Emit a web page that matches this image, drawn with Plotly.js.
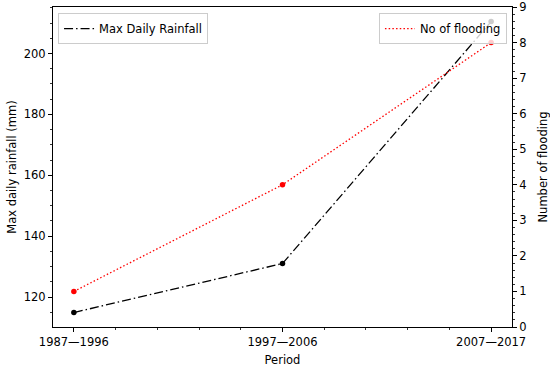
<!DOCTYPE html>
<html>
<head>
<meta charset="utf-8">
<script src="https://cdn.plot.ly/plotly-3.0.1.min.js"></script>
<style>html,body{margin:0;padding:0;background:#fff;}#chart{width:550px;height:367px;}</style>
</head>
<body>
<div id="chart"></div>
<script>
const periods = ['1987—1996', '1997—2006', '2007—2017'];
const maxRainfall = [114.9, 131.0, 210.5];
const floodCount = [1, 4, 8];
const leftTicks = [120, 140, 160, 180, 200];
const rightTicks = [0, 1, 2, 3, 4, 5, 6, 7, 8, 9];

const xIdx = periods.map((_, i) => i);
const FONT = 'DejaVu Sans, Verdana, sans-serif';

const traces = [
  {
    x: xIdx, y: maxRainfall, type: 'scatter', mode: 'lines',
    name: 'Max Daily Rainfall', yaxis: 'y', legend: 'legend',
    line: {color: '#000000', width: 1.3, dash: '9px,3px,1.5px,3px'}
  },
  {
    x: xIdx, y: maxRainfall, type: 'scatter', mode: 'markers',
    showlegend: false, yaxis: 'y',
    marker: {color: '#000000', size: 5.5}
  },
  {
    x: xIdx, y: floodCount, type: 'scatter', mode: 'lines',
    name: 'No of flooding', yaxis: 'y2', legend: 'legend2',
    line: {color: '#ff0000', width: 1.3, dash: '1.5px,2.2px'}
  },
  {
    x: xIdx, y: floodCount, type: 'scatter', mode: 'markers',
    showlegend: false, yaxis: 'y2',
    marker: {color: '#ff0000', size: 5.5}
  }
];

const axisCommon = {
  showline: true, linecolor: '#000', linewidth: 1,
  ticks: 'outside', ticklen: 4, tickwidth: 1, tickcolor: '#000',
  showgrid: false, zeroline: false,
  tickfont: {family: FONT, size: 11.5, color: '#000'}
};

const layout = {
  width: 550, height: 367,
  margin: {l: 53, r: 38, t: 7, b: 40},
  paper_bgcolor: '#fff', plot_bgcolor: '#fff',
  font: {family: FONT, size: 11.5, color: '#000'},
  xaxis: Object.assign({}, axisCommon, {
    range: [-0.1, 2.1], tickvals: xIdx, ticktext: periods, mirror: true,
    minor: {dtick: 0.2, tick0: 0, ticks: 'outside', ticklen: 2, tickwidth: 0.8, tickcolor: '#000'},
    title: {text: 'Period', font: {family: FONT, size: 11.5}},
    automargin: false
  }),
  yaxis: Object.assign({}, axisCommon, {
    range: [110.14, 215.3], tickvals: leftTicks,
    minor: {dtick: 5, tick0: 0, ticks: 'outside', ticklen: 2, tickwidth: 0.8, tickcolor: '#000'},
    title: {text: 'Max daily rainfall (mm)', font: {family: FONT, size: 11.5}, standoff: 4},
    automargin: false
  }),
  yaxis2: Object.assign({}, axisCommon, {
    range: [0, 9], tickvals: rightTicks, overlaying: 'y', side: 'right',
    minor: {dtick: 0.2, tick0: 0, ticks: 'outside', ticklen: 2, tickwidth: 0.8, tickcolor: '#000'},
    title: {text: 'Number of flooding', font: {family: FONT, size: 11.5}},
    automargin: false
  }),
  legend: {
    x: 0.011, y: 0.981, xanchor: 'left', yanchor: 'top',
    bgcolor: 'rgba(255,255,255,0.8)', bordercolor: '#cccccc', borderwidth: 1,
    font: {family: FONT, size: 11.5}, itemwidth: 30
  },
  legend2: {
    x: 0.989, y: 0.981, xanchor: 'right', yanchor: 'top',
    bgcolor: 'rgba(255,255,255,0.8)', bordercolor: '#cccccc', borderwidth: 1,
    font: {family: FONT, size: 11.5}, itemwidth: 30
  },
  showlegend: true
};

Plotly.newPlot('chart', traces, layout, {displayModeBar: false, staticPlot: true});
</script>
</body>
</html>
